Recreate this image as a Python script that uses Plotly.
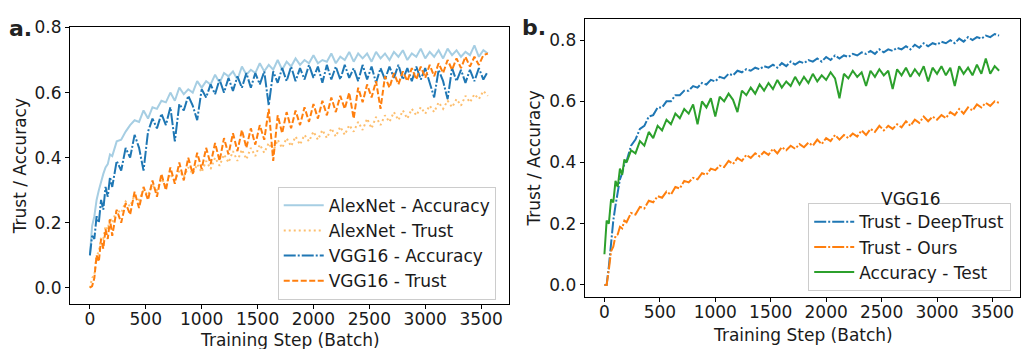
import plotly.graph_objects as go

# ---- data ----
steps = list(range(0, 200, 20)) + list(range(200, 3561, 40))

alexnet_acc = [0.10, 0.19, 0.22, 0.27, 0.30, 0.33, 0.35, 0.37, 0.38, 0.41,
               0.405, 0.45, 0.455, 0.48, 0.50, 0.515, 0.51, 0.545, 0.52, 0.555,
               0.55, 0.575, 0.57, 0.60, 0.575, 0.615, 0.595, 0.61, 0.60, 0.635,
               0.615, 0.635, 0.625, 0.655, 0.63, 0.66, 0.65, 0.665, 0.64, 0.68,
               0.655, 0.67, 0.66, 0.69, 0.665, 0.685, 0.67, 0.70, 0.67, 0.695,
               0.68, 0.705, 0.685, 0.70, 0.69, 0.715, 0.69, 0.70, 0.695, 0.72,
               0.69, 0.71, 0.70, 0.725, 0.695, 0.72, 0.705, 0.72, 0.695, 0.725,
               0.705, 0.72, 0.70, 0.725, 0.71, 0.73, 0.70, 0.72, 0.71, 0.735,
               0.705, 0.725, 0.71, 0.73, 0.705, 0.735, 0.715, 0.73, 0.71, 0.725,
               0.715, 0.745, 0.71, 0.73, 0.72]

alexnet_trust = [0.0, 0.03, 0.04, 0.10, 0.11, 0.155, 0.15, 0.19, 0.18, 0.215,
                 0.20, 0.24, 0.23, 0.265, 0.25, 0.285, 0.27, 0.30, 0.285, 0.315,
                 0.30, 0.335, 0.315, 0.35, 0.33, 0.36, 0.34, 0.37, 0.35, 0.38,
                 0.355, 0.39, 0.365, 0.40, 0.375, 0.41, 0.385, 0.42, 0.39, 0.425,
                 0.395, 0.43, 0.405, 0.44, 0.415, 0.445, 0.42, 0.455, 0.43, 0.46,
                 0.435, 0.465, 0.44, 0.47, 0.45, 0.48, 0.455, 0.485, 0.46, 0.49,
                 0.465, 0.495, 0.47, 0.50, 0.48, 0.51, 0.485, 0.52, 0.49, 0.525,
                 0.50, 0.53, 0.51, 0.54, 0.515, 0.545, 0.52, 0.55, 0.53, 0.555,
                 0.535, 0.56, 0.54, 0.57, 0.55, 0.575, 0.555, 0.58, 0.56, 0.59,
                 0.57, 0.595, 0.58, 0.605, 0.59]

vgg_acc = [0.10, 0.16, 0.15, 0.22, 0.20, 0.27, 0.24, 0.31, 0.28, 0.34,
           0.31, 0.39, 0.36, 0.43, 0.40, 0.47, 0.43, 0.36, 0.48, 0.52,
           0.49, 0.535, 0.50, 0.555, 0.45, 0.565, 0.545, 0.59, 0.56, 0.515,
           0.61, 0.585, 0.625, 0.595, 0.64, 0.60, 0.645, 0.605, 0.65, 0.615,
           0.66, 0.615, 0.66, 0.625, 0.665, 0.56, 0.665, 0.63, 0.675, 0.635,
           0.68, 0.635, 0.675, 0.64, 0.685, 0.645, 0.68, 0.63, 0.685, 0.64,
           0.68, 0.64, 0.685, 0.645, 0.675, 0.635, 0.685, 0.64, 0.68, 0.63,
           0.675, 0.64, 0.68, 0.645, 0.685, 0.64, 0.675, 0.635, 0.68, 0.64,
           0.675, 0.63, 0.585, 0.67, 0.635, 0.58, 0.675, 0.635, 0.67, 0.63,
           0.67, 0.635, 0.675, 0.64, 0.665]

vgg_trust = [0.0, 0.005, 0.03, 0.10, 0.08, 0.15, 0.12, 0.18, 0.15, 0.21,
             0.16, 0.24, 0.20, 0.26, 0.225, 0.295, 0.245, 0.31, 0.27, 0.33,
             0.28, 0.35, 0.30, 0.37, 0.32, 0.385, 0.33, 0.40, 0.35, 0.415,
             0.365, 0.43, 0.38, 0.445, 0.39, 0.46, 0.41, 0.475, 0.42, 0.485,
             0.43, 0.49, 0.44, 0.50, 0.455, 0.55, 0.39, 0.53, 0.475, 0.54,
             0.49, 0.545, 0.50, 0.555, 0.51, 0.565, 0.52, 0.575, 0.53, 0.585,
             0.54, 0.59, 0.55, 0.60, 0.52, 0.615, 0.57, 0.625, 0.585, 0.635,
             0.55, 0.65, 0.615, 0.66, 0.625, 0.665, 0.635, 0.675, 0.64, 0.68,
             0.645, 0.685, 0.65, 0.69, 0.66, 0.70, 0.67, 0.705, 0.675, 0.71,
             0.68, 0.71, 0.685, 0.715, 0.72]

deeptrust_trust = [0.0, 0.0, 0.06, 0.14, 0.21, 0.26, 0.31, 0.345, 0.365, 0.395,
                   0.405, 0.455, 0.475, 0.51, 0.52, 0.55, 0.555, 0.58, 0.58, 0.60,
                   0.60, 0.62, 0.62, 0.635, 0.635, 0.65, 0.645, 0.66, 0.655, 0.67,
                   0.665, 0.68, 0.675, 0.69, 0.685, 0.70, 0.695, 0.705, 0.70, 0.71,
                   0.705, 0.715, 0.71, 0.72, 0.71, 0.725, 0.715, 0.73, 0.72, 0.73,
                   0.725, 0.735, 0.73, 0.74, 0.73, 0.745, 0.735, 0.75, 0.74, 0.75,
                   0.745, 0.755, 0.75, 0.76, 0.755, 0.765, 0.755, 0.77, 0.76, 0.77,
                   0.765, 0.775, 0.77, 0.78, 0.77, 0.785, 0.775, 0.79, 0.78, 0.79,
                   0.785, 0.795, 0.79, 0.80, 0.79, 0.805, 0.795, 0.81, 0.80, 0.81,
                   0.805, 0.815, 0.81, 0.82, 0.815]

ours_trust = [0.0, 0.0, 0.05, 0.11, 0.125, 0.16, 0.165, 0.19, 0.185, 0.21,
              0.205, 0.235, 0.23, 0.255, 0.25, 0.275, 0.27, 0.29, 0.285, 0.305,
              0.295, 0.32, 0.315, 0.34, 0.335, 0.35, 0.345, 0.365, 0.36, 0.38,
              0.375, 0.39, 0.385, 0.405, 0.395, 0.415, 0.405, 0.425, 0.415, 0.43,
              0.42, 0.435, 0.425, 0.445, 0.43, 0.45, 0.44, 0.455, 0.445, 0.46,
              0.45, 0.465, 0.455, 0.475, 0.46, 0.48, 0.47, 0.49, 0.475, 0.49,
              0.48, 0.495, 0.485, 0.505, 0.49, 0.51, 0.50, 0.52, 0.505, 0.52,
              0.51, 0.525, 0.515, 0.535, 0.52, 0.54, 0.53, 0.55, 0.535, 0.55,
              0.54, 0.555, 0.545, 0.565, 0.555, 0.575, 0.56, 0.58, 0.57, 0.59,
              0.58, 0.595, 0.585, 0.60, 0.595]

test_acc = [0.10, 0.21, 0.20, 0.28, 0.27, 0.34, 0.32, 0.38, 0.36, 0.41,
            0.40, 0.44, 0.43, 0.47, 0.455, 0.50, 0.48, 0.52, 0.505, 0.54,
            0.525, 0.56, 0.545, 0.575, 0.56, 0.59, 0.525, 0.60, 0.58, 0.61,
            0.55, 0.615, 0.60, 0.625, 0.605, 0.565, 0.635, 0.62, 0.645, 0.625,
            0.655, 0.635, 0.66, 0.64, 0.67, 0.645, 0.665, 0.65, 0.68, 0.655,
            0.68, 0.66, 0.69, 0.665, 0.685, 0.67, 0.695, 0.675, 0.61, 0.69,
            0.675, 0.70, 0.68, 0.695, 0.65, 0.70, 0.68, 0.705, 0.685, 0.70,
            0.64, 0.705, 0.685, 0.71, 0.68, 0.705, 0.685, 0.715, 0.665, 0.71,
            0.69, 0.715, 0.685, 0.71, 0.65, 0.715, 0.69, 0.71, 0.685, 0.72,
            0.69, 0.74, 0.69, 0.715, 0.70]

x_ticks = [0, 500, 1000, 1500, 2000, 2500, 3000, 3500]
y_ticks = [0.0, 0.2, 0.4, 0.6, 0.8]

# ---- styling ----
W, H = 1021, 349
FONT = "DejaVu Sans"
TXT = "#1a1a1a"
FS = 17
LW = 2.0
DOT = "2px,3px"
DASH = "6px,2.5px"
DASHDOT = "12px,2px,2px,2px"

fig = go.Figure()

panel_a = [
    ("AlexNet - Accuracy", alexnet_acc, "#a6cee3", "solid"),
    ("AlexNet - Trust", alexnet_trust, "#fdbf6f", DOT),
    ("VGG16 - Accuracy", vgg_acc, "#1f77b4", DASHDOT),
    ("VGG16 - Trust", vgg_trust, "#ff7f0e", DASH),
]
for name, ys, col, dash in panel_a:
    fig.add_trace(go.Scatter(x=steps, y=ys, mode="lines", name=name,
                             line=dict(color=col, width=LW, dash=dash),
                             xaxis="x", yaxis="y", legend="legend"))

panel_b = [
    ("Trust - DeepTrust", deeptrust_trust, "#1f77b4", DASHDOT),
    ("Trust - Ours", ours_trust, "#ff7f0e", DASHDOT),
    ("Accuracy - Test", test_acc, "#2ca02c", "solid"),
]
for name, ys, col, dash in panel_b:
    fig.add_trace(go.Scatter(x=steps, y=ys, mode="lines", name=name,
                             line=dict(color=col, width=LW, dash=dash),
                             xaxis="x2", yaxis="y2", legend="legend2"))

axis_common = dict(showgrid=False, zeroline=False, showline=True, mirror=True,
                   linecolor="black", linewidth=1, ticks="outside", ticklen=4,
                   tickwidth=1, tickcolor="black",
                   tickfont=dict(family=FONT, size=FS, color=TXT))

fig.update_layout(
    width=W, height=H,
    margin=dict(l=0, r=0, t=0, b=0),
    paper_bgcolor="white", plot_bgcolor="white",
    font=dict(family=FONT, size=FS, color=TXT),
    xaxis=dict(domain=[70 / W, 509.4 / W], range=[-178.5, 3748.5],
               tickvals=x_ticks, anchor="y", ticklabelstandoff=-4, **axis_common),
    yaxis=dict(domain=[1 - 302.75 / H, 1 - 18 / H], range=[-0.05, 0.8],
               tickvals=y_ticks, tickformat=".1f", anchor="x", **axis_common),
    xaxis2=dict(domain=[585.2 / W, 1.0], range=[-178.5, 3748.5],
                tickvals=x_ticks, anchor="y2", ticklabelstandoff=-5, **axis_common),
    yaxis2=dict(domain=[1 - 295.6 / H, 1 - 9 / H], range=[-0.04, 0.87],
                tickvals=y_ticks, tickformat=".1f", anchor="x2", **axis_common),
    legend=dict(x=278 / W, y=1 - 182 / H, xanchor="left", yanchor="top",
                bgcolor="rgba(255,255,255,0.85)", bordercolor="#cccccc",
                borderwidth=1, itemwidth=40,
                font=dict(family=FONT, size=FS, color=TXT)),
    legend2=dict(x=809 / W, y=1 - 199 / H, xanchor="left", yanchor="top",
                 bgcolor="rgba(255,255,255,0.85)", bordercolor="#cccccc",
                 borderwidth=1, itemwidth=40,
                 font=dict(family=FONT, size=FS, color=TXT)),
)

ann = [
    dict(text="<b>a.</b>", x=21 / W, y=1 - 19 / H, font=dict(size=22, color="#222")),
    dict(text="<b>b.</b>", x=535 / W, y=1 - 18 / H, font=dict(size=22, color="#222")),
    dict(text="Trust / Accuracy", x=20 / W, y=1 - 161 / H, textangle=-90),
    dict(text="Trust / Accuracy", x=534.5 / W, y=1 - 153 / H, textangle=-90),
    dict(text="Training Step (Batch)", x=290 / W, y=1 - 340 / H),
    dict(text="Training Step (Batch)", x=804 / W, y=1 - 335 / H),
    dict(text="VGG16", x=911.7 / W, y=1 - 195 / H),
]
for a in ann:
    base = dict(xref="paper", yref="paper", showarrow=False,
                xanchor="center", yanchor="middle",
                font=dict(family=FONT, size=FS, color=TXT))
    f = a.pop("font", None)
    base.update(a)
    if f:
        base["font"] = dict(family=FONT, **f)
    fig.add_annotation(**base)

fig.write_html("out.html", config={"displayModeBar": False},
               post_script="document.body.style.margin='0px';")
